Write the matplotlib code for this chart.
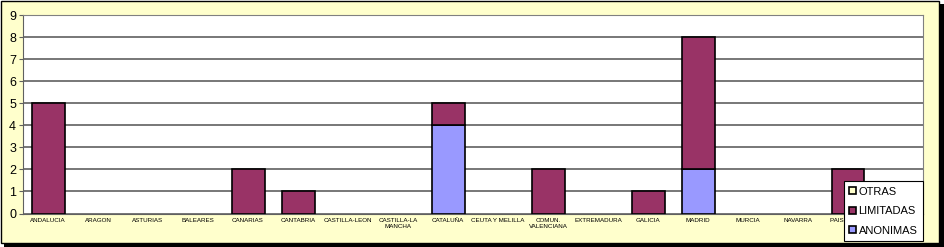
import numpy as np
import matplotlib.pyplot as plt
from matplotlib.patches import Rectangle, Patch

regiones = ['ANDALUCIA', 'ARAGON', 'ASTURIAS', 'BALEARES', 'CANARIAS', 'CANTABRIA',
            'CASTILLA-LEON', 'CASTILLA-LA\nMANCHA', 'CATALUÑA', 'CEUTA Y MELILLA',
            'COMUN.\nVALENCIANA', 'EXTREMADURA', 'GALICIA', 'MADRID', 'MURCIA',
            'NAVARRA', 'PAIS VASCO', 'LA RIOJA']
anonimas = [0, 0, 0, 0, 0, 0, 0, 0, 4, 0, 0, 0, 0, 2, 0, 0, 0, 0]
limitadas = [5, 0, 0, 0, 2, 1, 0, 0, 1, 0, 2, 0, 1, 6, 0, 0, 2, 0]
otras = [0] * 18

series = ['ANONIMAS', 'LIMITADAS', 'OTRAS']
colores = ['#9999FF', '#993366', '#FFFFCC']

plt.rcParams['font.family'] = ['Liberation Sans', 'DejaVu Sans']

fig = plt.figure(figsize=(9.44, 2.47), dpi=100)
fig.patch.set_facecolor('white')

# marco amarillo con sombra
fig.patches.append(Rectangle((4 / 944, 0), 940 / 944, 243 / 247, transform=fig.transFigure,
                             facecolor='black', edgecolor='none', zorder=-2))
fig.patches.append(Rectangle((1 / 944, 4 / 247), 938 / 944, 242 / 247, transform=fig.transFigure,
                             facecolor='#FFFFCC', edgecolor='black', linewidth=1, zorder=-1))

ax = fig.add_axes([23 / 944, (247 - 213.5) / 247, 900 / 944, 198.5 / 247])
ax.set_facecolor('white')
x = np.arange(len(regiones))
w = 0.66
bottom = np.zeros(len(regiones))
for vals, col in zip([anonimas, limitadas, otras], colores):
    v = np.array(vals)
    bars = ax.bar(x, v, bottom=bottom, width=w, color=col, edgecolor='black',
                  linewidth=1.2, zorder=3)
    # sin borde para las barras vacias
    for p in bars.patches:
        if p.get_height() == 0:
            p.set_visible(False)
    bottom = bottom + v

ax.set_xlim(-0.5, len(regiones) - 0.5)
ax.set_ylim(0, 9)
ax.set_yticks(range(10))
ax.yaxis.grid(True, color='#606060', linewidth=1.2, zorder=0)
ax.set_axisbelow(True)
ax.set_xticks(x)
ax.set_xticklabels(regiones, fontsize=4.5, linespacing=1.45)
ax.tick_params(axis='x', length=0, pad=3)
ax.tick_params(axis='y', length=3, labelsize=9, pad=2, color='#606060')
for s in ['top', 'right']:
    ax.spines[s].set_color('#808080')
ax.spines['left'].set_color('#606060')
ax.spines['bottom'].set_color('#606060')

handles = [Patch(facecolor=c, edgecolor='black', linewidth=1.2, label=s)
           for s, c in zip(series, colores)][::-1]
leg = ax.legend(handles=handles, loc='lower right', bbox_to_anchor=(1.0, -0.14), fontsize=8,
                fancybox=False, framealpha=1, edgecolor='black',
                handlelength=0.6, handleheight=0.6, handletextpad=0.25,
                labelspacing=0.85, borderpad=0.5, borderaxespad=0)
leg.get_frame().set_linewidth(0.8)
leg.set_zorder(10)

fig.savefig('out.png', dpi=100, facecolor=fig.get_facecolor())
